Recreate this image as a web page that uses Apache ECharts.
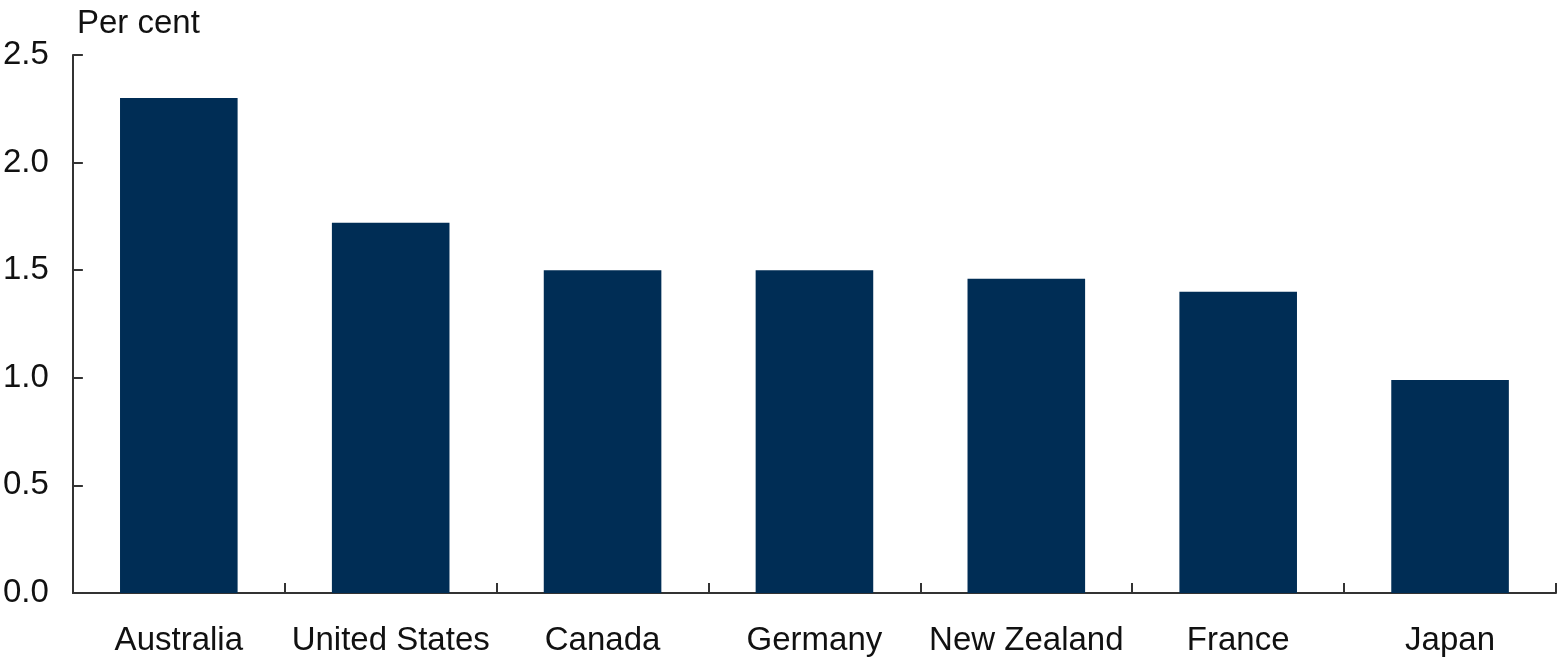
<!DOCTYPE html>
<html>
<head>
<meta charset="utf-8">
<script src="https://cdn.jsdelivr.net/npm/echarts@6/dist/echarts.min.js"></script>
<style>
  html, body { margin: 0; padding: 0; background: #ffffff; }
  #chart { width: 1558px; height: 663px; }
</style>
</head>
<body>
<div id="chart"></div>
<script>
const countries = ['Australia', 'United States', 'Canada', 'Germany', 'New Zealand', 'France', 'Japan'];
const values = [2.30, 1.72, 1.50, 1.50, 1.46, 1.40, 0.99];
const yTicks = [0, 0.5, 1.0, 1.5, 2.0, 2.5];

const chart = echarts.init(document.getElementById('chart'), null, {renderer: 'canvas'});
const font = 'Liberation Sans, Arial, sans-serif';

chart.setOption({
    backgroundColor: '#ffffff',
    animation: false,
    title: {
        text: 'Per cent',
        left: 72,
        top: 2,
        textStyle: {fontFamily: font, fontSize: 33, fontWeight: 'normal', color: '#111111'}
    },
    grid: {left: 70, right: 2, top: 55, bottom: 70, containLabel: false},
    xAxis: {
        type: 'category',
        data: countries,
        axisLine: {lineStyle: {color: '#333333', width: 2}},
        axisTick: {show: true, inside: true, length: 10, alignWithLabel: false, lineStyle: {color: '#333333', width: 2}},
        axisLabel: {fontFamily: font, fontSize: 33, color: '#111111', margin: 31, interval: 0}
    },
    yAxis: {
        type: 'value',
        min: yTicks[0],
        max: yTicks[yTicks.length - 1],
        interval: 0.5,
        axisLine: {show: true, lineStyle: {color: '#333333', width: 2}},
        axisTick: {show: true, inside: true, length: 10, lineStyle: {color: '#333333', width: 2}},
        splitLine: {show: false},
        axisLabel: {fontFamily: font, fontSize: 33, color: '#111111', margin: 24,
            formatter: v => v.toFixed(1)}
    },
    series: [{
        type: 'bar',
        data: values,
        barWidth: '55.5%',
        itemStyle: {color: '#002D55'}
    }]
});
</script>
</body>
</html>
